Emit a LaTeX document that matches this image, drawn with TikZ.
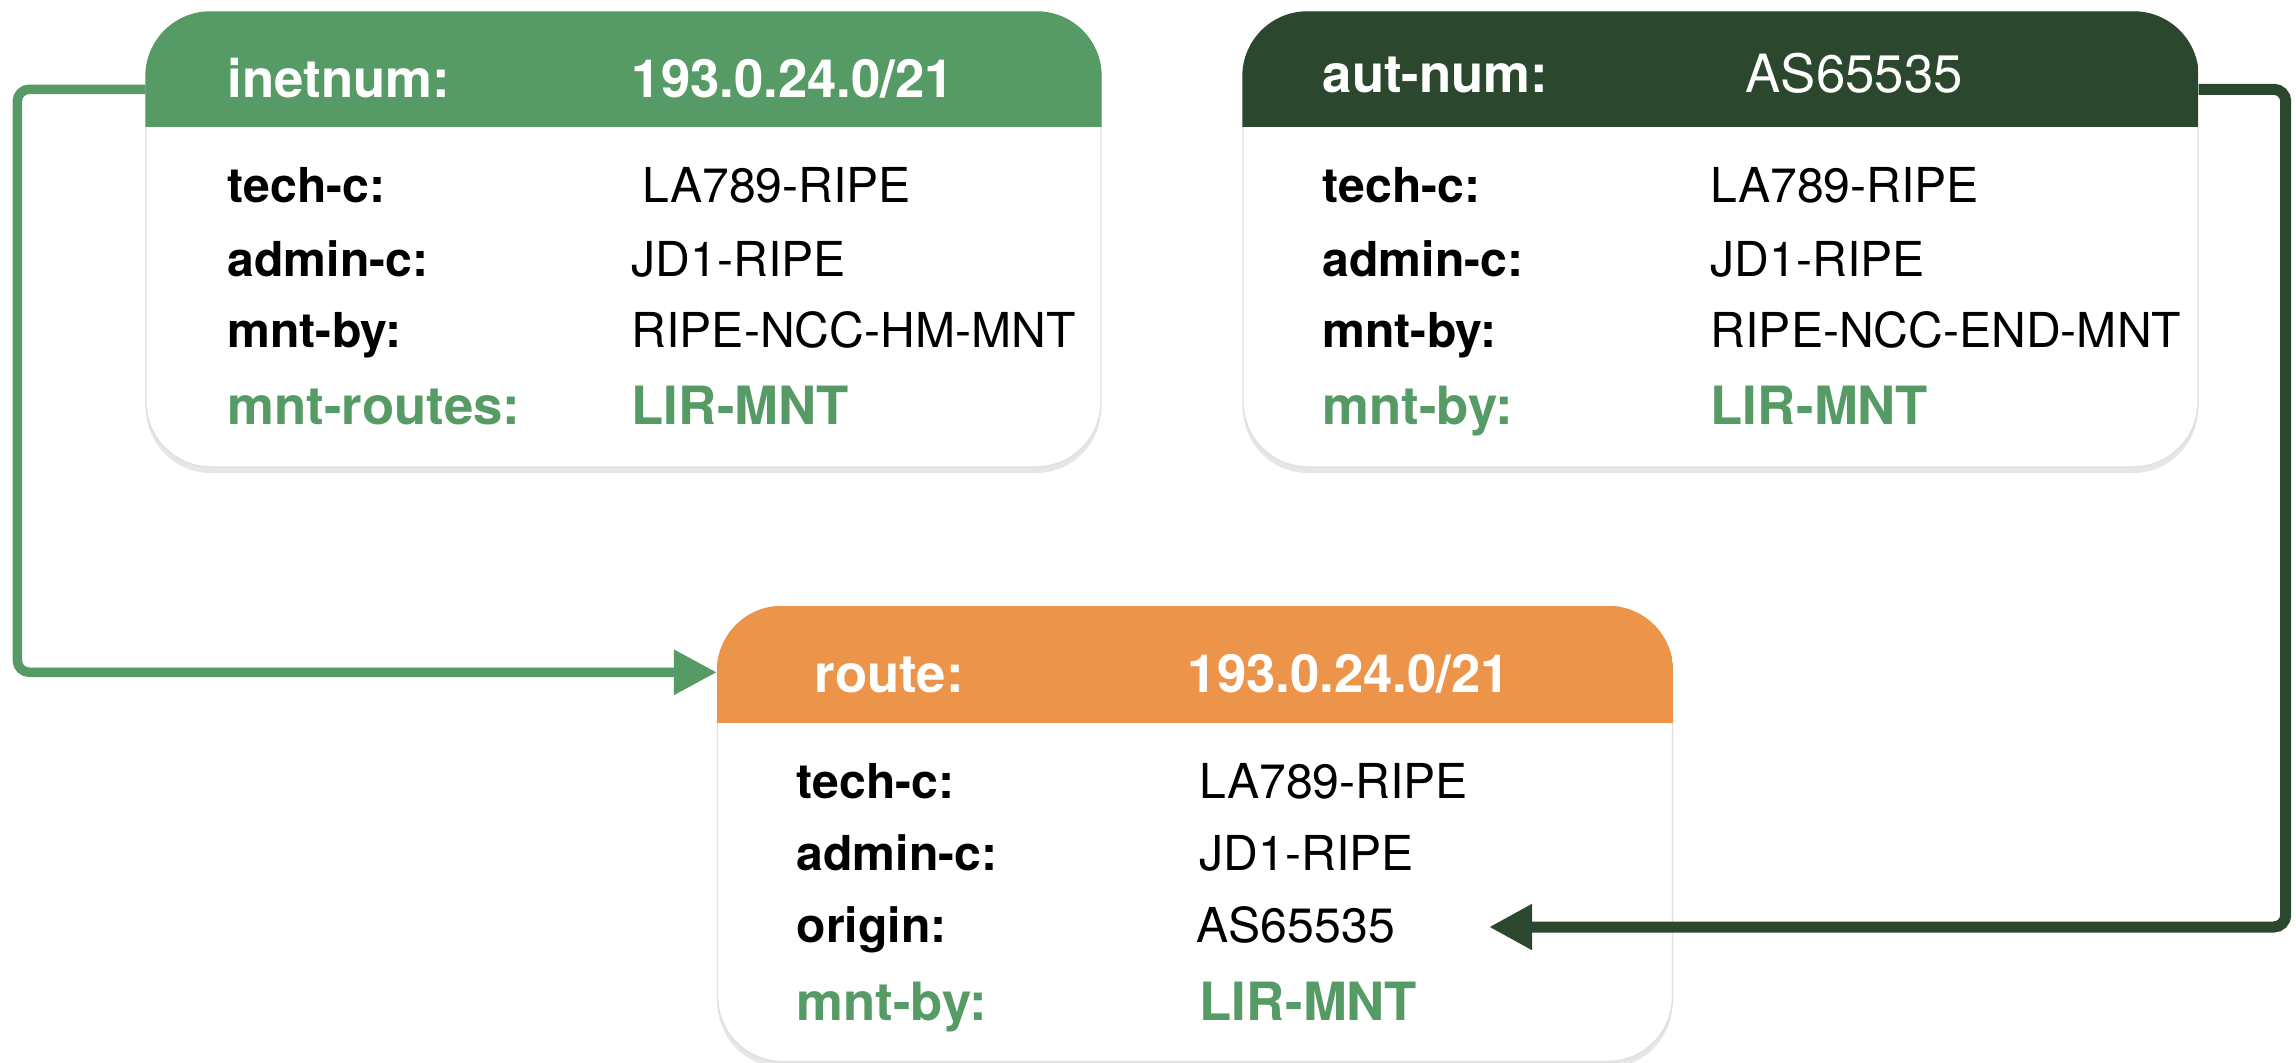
\documentclass[tikz,border=0pt]{standalone}
\usepackage{fontspec}
\setmainfont{TeX Gyre Heros}
\usetikzlibrary{arrows.meta,shadows}
\definecolor{ripegreen}{RGB}{86,155,101}
\definecolor{ripedark}{RGB}{43,71,46}
\definecolor{ripeorange}{RGB}{236,148,73}
\tikzset{
  objbox/.style={rectangle, rounded corners=0.65cm, fill=white, draw=black!12, minimum width=9.55cm, minimum height=4.55cm,
    drop shadow={shadow xshift=0cm, shadow yshift=-0.06cm, opacity=0.2}},
  hdrtext/.style={anchor=base west, inner sep=0pt, text=white, font=\fontsize{15}{18}\selectfont},
  fieldkey/.style={anchor=base west, inner sep=0pt, font=\fontsize{13.7}{16}\selectfont\bfseries},
  fieldval/.style={anchor=base west, inner sep=0pt, font=\fontsize{13.7}{16}\selectfont},
  fieldmnt/.style={anchor=base west, inner sep=0pt, text=ripegreen, font=\fontsize{15}{18}\selectfont\bfseries},
  linkarrow/.style={rounded corners=0.12cm, -{Triangle[length=0.43cm,width=0.43cm]}}
}
\begin{document}
\begin{tikzpicture}
\useasboundingbox (0,0) rectangle (22.96,-10.63);
\node[objbox] (inet) at (6.235,-2.395) {};
\node[objbox] (aut) at (17.205,-2.395) {};
\node[objbox] (route) at (11.95,-8.34) {};
\begin{scope}
\clip[rounded corners=0.65cm] (inet.south west) rectangle (inet.north east);
\fill[ripegreen] (inet.north west) rectangle ([yshift=-1.16cm]inet.north east);
\end{scope}
\begin{scope}
\clip[rounded corners=0.65cm] (aut.south west) rectangle (aut.north east);
\fill[ripedark] (aut.north west) rectangle ([yshift=-1.16cm]aut.north east);
\end{scope}
\begin{scope}
\clip[rounded corners=0.65cm] (route.south west) rectangle (route.north east);
\fill[ripeorange] (route.north west) rectangle ([yshift=-1.17cm]route.north east);
\end{scope}

\node[hdrtext, font=\fontsize{15}{18}\selectfont\bfseries] (inet-key) at (2.27,-0.98) {inetnum:};
\node[hdrtext, font=\fontsize{15}{18}\selectfont\bfseries] (inet-val) at (6.31,-0.98) {193.0.24.0/21};
\node[fieldkey] (inet-tech) at (2.27,-2.03) {tech-c:};
\node[fieldval] (inet-techval) at (6.42,-2.03) {LA789-RIPE};
\node[fieldkey] (inet-admin) at (2.27,-2.77) {admin-c:};
\node[fieldval] (inet-adminval) at (6.31,-2.77) {JD1-RIPE};
\node[fieldkey] (inet-mnt) at (2.27,-3.48) {mnt-by:};
\node[fieldval] (inet-mntval) at (6.31,-3.48) {RIPE-NCC-HM-MNT};
\node[fieldmnt] (inet-routes) at (2.27,-4.25) {mnt-routes:};
\node[fieldmnt] (inet-routesval) at (6.31,-4.25) {LIR-MNT};

\node[hdrtext, font=\fontsize{15}{18}\selectfont\bfseries] (aut-key) at (13.22,-0.93) {aut-num:};
\node[hdrtext] (aut-val) at (17.45,-0.93) {AS65535};
\node[fieldkey] (aut-tech) at (13.22,-2.03) {tech-c:};
\node[fieldval] (aut-techval) at (17.10,-2.03) {LA789-RIPE};
\node[fieldkey] (aut-admin) at (13.22,-2.77) {admin-c:};
\node[fieldval] (aut-adminval) at (17.10,-2.77) {JD1-RIPE};
\node[fieldkey] (aut-mnt) at (13.22,-3.48) {mnt-by:};
\node[fieldval] (aut-mntval) at (17.10,-3.48) {RIPE-NCC-END-MNT};
\node[fieldmnt] (aut-lir) at (13.22,-4.25) {mnt-by:};
\node[fieldmnt] (aut-lirval) at (17.10,-4.25) {LIR-MNT};

\node[hdrtext, font=\fontsize{15}{18}\selectfont\bfseries] (route-key) at (8.14,-6.92) {route:};
\node[hdrtext, font=\fontsize{15}{18}\selectfont\bfseries] (route-val) at (11.87,-6.92) {193.0.24.0/21};
\node[fieldkey] (route-tech) at (7.96,-7.98) {tech-c:};
\node[fieldval] (route-techval) at (11.99,-7.98) {LA789-RIPE};
\node[fieldkey] (route-admin) at (7.96,-8.70) {admin-c:};
\node[fieldval] (route-adminval) at (11.99,-8.70) {JD1-RIPE};
\node[fieldkey] (route-origin) at (7.96,-9.42) {origin:};
\node[fieldval] (route-originval) at (11.96,-9.42) {AS65535};
\node[fieldmnt] (route-lir) at (7.96,-10.20) {mnt-by:};
\node[fieldmnt] (route-lirval) at (11.99,-10.20) {LIR-MNT};

\coordinate (inet-out) at ([yshift=-0.78cm]inet.north west);
\coordinate (aut-out) at ([yshift=-0.78cm]aut.north east);
\coordinate (origin-tip) at (14.89,-9.27);
\draw[linkarrow, ripegreen, line width=0.095cm] (inet-out) -- ++(-1.28,0) |- ([yshift=-0.665cm]route.north west);
\draw[linkarrow, ripedark, line width=0.11cm] (aut-out) -- ++(0.87,0) |- (origin-tip);
\end{tikzpicture}
\end{document}
